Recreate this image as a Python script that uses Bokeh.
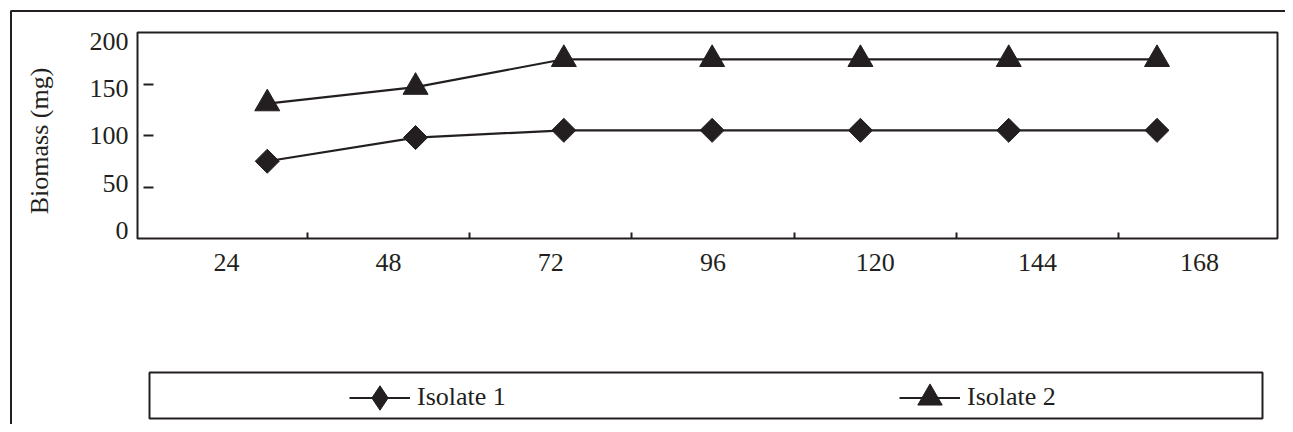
from math import pi

from bokeh.plotting import figure
from bokeh.models import (Range1d, LinearAxis, FixedTicker, Legend, LegendItem,
                          BoxAnnotation)
from bokeh.embed import file_html
from bokeh.resources import INLINE

# ---- data ----
hours = [24, 48, 72, 96, 120, 144, 168]
hour_labels = ["24", "48", "72", "96", "120", "144", "168"]
isolate_1 = [75, 98, 105, 105, 105, 105, 105]
isolate_2 = [131, 147, 174, 174, 174, 174, 174]
y_tick_labels = [0, 50, 100, 150, 200]
y_tick_marks = [50, 100, 150]
series_names = ["Isolate 1", "Isolate 2"]

# ---- style / geometry (canvas pixels) ----
INK = "#231f20"
FONT = "Liberation Serif"
FS = "26px"
CW, CH = 1285, 424                      # canvas = drawing frame
PA_L, PA_R, PA_T, PA_B = 137, 1277, 32, 238   # plot area box
X_START, X_END = 3, 187.5               # hours at plot-area edges
Y_MIN, Y_MAX = 0, 200

ppx = (PA_R - PA_L) / (X_END - X_START)
ppy = (PA_B - PA_T) / (Y_MAX - Y_MIN)
x0 = X_START - PA_L / ppx
x1 = X_END + (CW - PA_R) / ppx
y1 = Y_MAX + PA_T / ppy
y0 = Y_MIN - (CH - PA_B) / ppy


def px_x(px):
    return x0 + px / ppx


def px_y(py):
    return y1 - py / ppy


# label ranges (tick labels sit slightly inside the data scale, as in the source)
LAB_TOP, LAB_BOT = 40.8, 230.0          # pixel rows of the 200 and 0 labels
ppl = (LAB_BOT - LAB_TOP) / (Y_MAX - Y_MIN)
lab0 = Y_MIN - (CH - LAB_BOT) / ppl
lab1 = Y_MAX + LAB_TOP / ppl

CAT_B0, CAT_B5 = 307, 1118              # pixel columns of first and last boundary ticks
ppc = (CAT_B5 - CAT_B0) / 5
cat0 = 0.5 - CAT_B0 / ppc
cat1 = 5.5 + (CW - CAT_B5) / ppc

p = figure(frame_width=CW, frame_height=CH,
           min_border_left=0, min_border_right=0, min_border_top=0, min_border_bottom=0,
           x_range=Range1d(x0, x1), y_range=Range1d(y0, y1),
           x_axis_location=None, y_axis_location=None, title_location=None,
           toolbar_location=None, output_backend="svg")
p.grid.visible = False
p.outline_line_color = None
p.background_fill_color = "white"
p.border_fill_color = "white"

p.extra_y_ranges = {"lab": Range1d(lab0, lab1)}
p.extra_x_ranges = {"cat": Range1d(cat0, cat1)}

# y labels
ylab = LinearAxis(y_range_name="lab", ticker=FixedTicker(ticks=y_tick_labels),
                  fixed_location=X_START, bounds=(-11, 200),
                  major_tick_in=0, major_tick_out=0, minor_tick_in=0, minor_tick_out=0,
                  axis_line_color=None, major_label_standoff=9,
                  major_label_text_font=FONT, major_label_text_font_size=FS,
                  major_label_text_color=INK,
                  axis_label="Biomass (mg)", axis_label_text_font=FONT,
                  axis_label_text_font_size=FS, axis_label_text_font_style="normal",
                  axis_label_text_color=INK, axis_label_standoff=33)
p.add_layout(ylab, "left")

# y tick dashes (inside the plot area, detached from the border)
ymarks = LinearAxis(ticker=FixedTicker(ticks=y_tick_marks), fixed_location=X_START + 6 / ppx,
                    bounds=(Y_MIN, Y_MAX),
                    major_tick_in=10, major_tick_out=0, minor_tick_in=0, minor_tick_out=0,
                    major_tick_line_width=2, major_tick_line_color=INK,
                    axis_line_color=None, major_label_standoff=0,
                    major_label_overrides={v: "" for v in y_tick_marks},
                    major_label_text_font_size="0px")
p.add_layout(ymarks, "left")

# x labels centred in categories, with boundary ticks
xlab = LinearAxis(x_range_name="cat", fixed_location=Y_MIN,
                  ticker=FixedTicker(ticks=list(range(len(hour_labels))),
                                     minor_ticks=[i + 0.5 for i in range(len(hour_labels) - 1)]),
                  major_tick_in=0, major_tick_out=0,
                  minor_tick_in=6, minor_tick_out=0,
                  minor_tick_line_width=2, minor_tick_line_color=INK,
                  axis_line_color=None,
                  major_label_overrides={i: s for i, s in enumerate(hour_labels)},
                  major_label_standoff=15,
                  major_label_text_font=FONT, major_label_text_font_size=FS,
                  major_label_text_color=INK)
p.add_layout(xlab, "below")

# plot-area box
p.add_layout(BoxAnnotation(left=X_START, right=X_END, bottom=Y_MIN, top=Y_MAX,
                           fill_color=None, fill_alpha=0, line_color=INK,
                           line_alpha=1, line_width=2))

# data
l1 = p.line(hours, isolate_1, line_color=INK, line_width=2.2)
m1 = p.scatter(hours, isolate_1, marker="square", angle=pi / 4, size=17,
               fill_color=INK, line_color=INK)
l2 = p.line(hours, isolate_2, line_color=INK, line_width=2.2)
m2 = p.scatter(hours, isolate_2, marker="triangle", size=25,
               fill_color=INK, line_color=INK)

# legend-only diamond (placed on the label scale, far outside the picture)
m1_proxy = p.scatter(hours, isolate_1, marker="diamond", fill_color=INK,
                     line_color=INK, x_range_name="cat")

# legend box and outer picture border
p.add_layout(BoxAnnotation(left=px_x(149), right=px_x(1262), top=px_y(372), bottom=px_y(418),
                           fill_color=None, fill_alpha=0, line_color=INK,
                           line_alpha=1, line_width=2))
p.add_layout(BoxAnnotation(left=px_x(10.5), right=px_x(CW + 60), top=px_y(10.5),
                           bottom=px_y(CH + 60),
                           fill_color=None, fill_alpha=0, line_color=INK,
                           line_alpha=1, line_width=2))

legend = Legend(items=[LegendItem(label=series_names[0], renderers=[l1, m1_proxy]),
                       LegendItem(label=series_names[1], renderers=[l2, m2])],
                orientation="horizontal", location=(349, CH - 427.5),
                glyph_width=61, glyph_height=61, label_standoff=7,
                label_width=100, spacing=382, padding=0, margin=0,
                border_line_color=None, background_fill_alpha=0,
                label_text_font=FONT, label_text_font_size=FS,
                label_text_color=INK)
p.add_layout(legend)

open("out.html", "w").write(file_html(p, INLINE))
